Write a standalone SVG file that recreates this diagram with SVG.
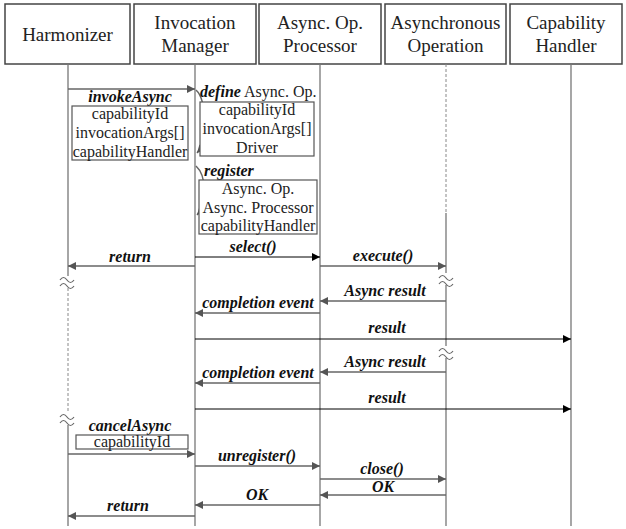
<svg xmlns="http://www.w3.org/2000/svg" width="626" height="529" viewBox="0 0 626 529">
<defs>
<marker id="ag" viewBox="0 0 10 10" refX="10" refY="5" markerWidth="9" markerHeight="8" markerUnits="userSpaceOnUse" orient="auto"><path d="M0,0 L10,5 L0,10 z" fill="#555"/></marker>
<marker id="ab" viewBox="0 0 10 10" refX="10" refY="5" markerWidth="9" markerHeight="8" markerUnits="userSpaceOnUse" orient="auto"><path d="M0,0 L10,5 L0,10 z" fill="#000"/></marker>
<path id="brk" d="M-7,-1 q3.5,-5 7,0 t7,0 M-7,5 q3.5,-5 7,0 t7,0" fill="none" stroke="#666" stroke-width="1.2"/>
</defs>
<style>
.hd{fill:#fff;stroke:#444;stroke-width:1.5}
.ht{font-family:"Liberation Serif","Times New Roman",serif;font-size:19px;fill:#222;text-anchor:middle}
.ll{stroke:#777;stroke-width:1.3;fill:none}
.dl{stroke:#888;stroke-width:1;stroke-dasharray:3,2;fill:none}
.g{stroke:#666;stroke-width:1.5;fill:none;marker-end:url(#ag)}
.k{stroke:#000;stroke-width:1;fill:none;marker-end:url(#ab)}
.lb{font-family:"Liberation Serif","Times New Roman",serif;font-size:16px;font-weight:bold;font-style:italic;fill:#111;text-anchor:middle}
.pt{font-family:"Liberation Serif","Times New Roman",serif;font-size:16px;fill:#222;text-anchor:middle}
.pb{fill:#fff;stroke:#555;stroke-width:1.2}
</style>
<g id="harmonizer">
<rect class="hd" x="5" y="4" width="125" height="60"/>
<text class="ht" x="67.5" y="41">Harmonizer</text>
<path class="ll" d="M68,64 V276 M68,425 V526"/>
<path class="dl" d="M68,288 V412"/>
<use href="#brk" x="67" y="281"/>
<use href="#brk" x="67" y="418"/>
</g>
<g id="invocation-manager">
<rect class="hd" x="134" y="4" width="122" height="60"/>
<text class="ht" x="195" y="29">Invocation</text>
<text class="ht" x="195" y="52">Manager</text>
<path class="ll" d="M195,64 V526"/>
</g>
<g id="async-op-processor">
<rect class="hd" x="259" y="4" width="122" height="60"/>
<text class="ht" x="320" y="29">Async. Op.</text>
<text class="ht" x="320" y="52">Processor</text>
<path class="ll" d="M320,64 V526"/>
</g>
<g id="asynchronous-operation">
<rect class="hd" x="385" y="4" width="121" height="60"/>
<text class="ht" x="445.5" y="29">Asynchronous</text>
<text class="ht" x="445.5" y="52">Operation</text>
<path class="dl" d="M446,64 V213"/>
<path class="ll" d="M446,213 V526"/>
<rect x="437" y="273" width="18" height="12" fill="#fff"/>
<use href="#brk" x="446" y="279"/>
<rect x="437" y="346" width="18" height="12" fill="#fff"/>
<use href="#brk" x="446" y="352"/>
</g>
<g id="capability-handler">
<rect class="hd" x="510" y="4" width="112" height="60"/>
<text class="ht" x="566" y="29">Capability</text>
<text class="ht" x="566" y="52">Handler</text>
<path class="ll" d="M571,64 V526"/>
</g>
<g id="connectors">
<path class="g" d="M68,89 H195"/>
<text class="lb" x="130" y="102">invokeAsync</text>
<rect class="pb" x="72" y="106" width="116" height="54"/>
<text class="pt" x="130" y="119">capabilityId</text>
<text class="pt" x="130" y="138">invocationArgs[]</text>
<text class="pt" x="130" y="157">capabilityHandler</text>

<path class="g" d="M196,90 C207,100 207,142 197,153"/>
<text x="200" y="97" style="font-family:'Liberation Serif','Times New Roman',serif;font-size:16px;fill:#222"><tspan font-weight="bold" font-style="italic" fill="#111">define</tspan> Async. Op.</text>
<rect class="pb" x="200" y="102" width="114" height="54"/>
<text class="pt" x="257" y="115">capabilityId</text>
<text class="pt" x="257" y="134">invocationArgs[]</text>
<text class="pt" x="257" y="153">Driver</text>

<path class="g" d="M196,166 C207,176 207,204 197,215"/>
<text x="204" y="176" style="font-family:'Liberation Serif','Times New Roman',serif;font-size:16px;font-weight:bold;font-style:italic;fill:#111">register</text>
<rect class="pb" x="199" y="180" width="118" height="54"/>
<text class="pt" x="258" y="194">Async. Op.</text>
<text class="pt" x="258" y="213">Async. Processor</text>
<text class="pt" x="258" y="231">capabilityHandler</text>

<path class="k" d="M195,257 H320"/>
<text class="lb" x="253" y="252">select()</text>
<path class="g" d="M195,266 H68"/>
<text class="lb" x="130" y="262">return</text>
<path class="g" d="M320,266 H446"/>
<text class="lb" x="383" y="261">execute()</text>
<path class="g" d="M446,301 H320"/>
<text class="lb" x="385" y="296">Async result</text>
<path class="g" d="M320,313 H195"/>
<text class="lb" x="258" y="308">completion event</text>
<path class="k" d="M195,339 H571"/>
<text class="lb" x="387" y="333">result</text>
<path class="g" d="M446,372 H320"/>
<text class="lb" x="385" y="367">Async result</text>
<path class="g" d="M320,383 H195"/>
<text class="lb" x="258" y="378">completion event</text>
<path class="k" d="M195,409 H571"/>
<text class="lb" x="387" y="403">result</text>

<text class="lb" x="130" y="431">cancelAsync</text>
<rect class="pb" x="76" y="435" width="112" height="14"/>
<text class="pt" x="132" y="447">capabilityId</text>
<path class="g" d="M68,454 H195"/>
<path class="g" d="M195,466 H320"/>
<text class="lb" x="257" y="461">unregister()</text>
<path class="g" d="M320,479 H446"/>
<text class="lb" x="382" y="474">close()</text>
<path class="g" d="M446,495 H320"/>
<text class="lb" x="383" y="492">OK</text>
<path class="g" d="M320,505 H195"/>
<text class="lb" x="257" y="500">OK</text>
<path class="g" d="M195,516 H68"/>
<text class="lb" x="128" y="511">return</text>
</g>
</svg>
